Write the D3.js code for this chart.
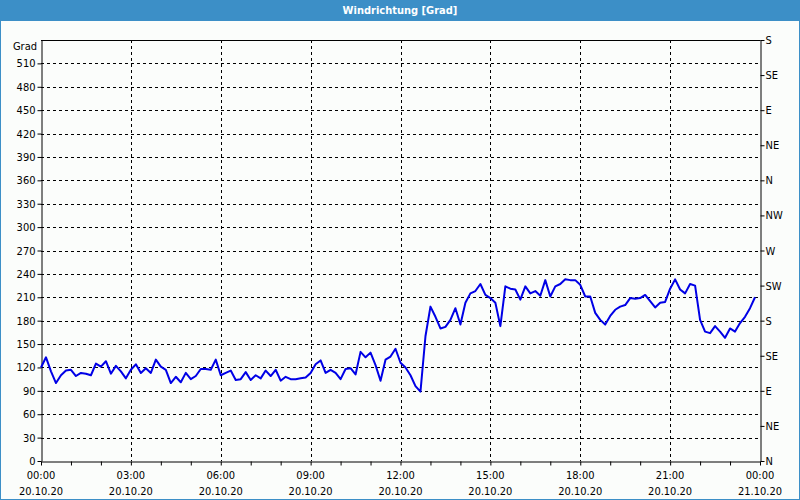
<!DOCTYPE html>
<html><head><meta charset="utf-8">
<script src="https://cdn.jsdelivr.net/npm/d3@7"></script>
<style>
html,body{margin:0;padding:0;background:#fff;}
svg{display:block;}
text{font-family:"DejaVu Sans Condensed","DejaVu Sans",sans-serif;font-size:11px;fill:#000;}
</style></head><body>
<svg id="c" width="800" height="500"></svg>
<script>
const title = "Windrichtung [Grad]";
const unitLabel = "Grad";
// 10-minute wind direction values, 20.10.20 00:00 .. 23:50
const values = [120,133,115,100,110,116,117,109,113,112,110,125,121,128,112,122,115,106,117,124,
113,119,113,130,121,117,100,108,101,113,105,109,118,118,117,130,110,113,116,104,
105,114,104,110,106,116,109,117,103,108,105,105,106,107,113,124,129,113,117,113,
105,118,119,111,140,133,139,123,103,130,134,144,126,120,110,96,89,160,198,185,
170,172,181,196,175,203,215,218,227,213,209,203,173,224,221,220,207,224,215,218,
212,232,211,224,227,233,232,232,226,211,211,190,181,175,186,194,198,200,209,208,
209,213,205,197,203,204,221,233,220,215,227,225,181,166,164,173,166,158,170,166,
177,185,196,210];
const leftTicks = [0,30,60,90,120,150,180,210,240,270,300,330,360,390,420,450,480,510];
const rightTicks = [0,45,90,135,180,225,270,315,360,405,450,495,540];
const rightLabels = ["N","NE","E","SE","S","SW","W","NW","N","NE","E","SE","S"];
const xTickHours = [0,3,6,9,12,15,18,21,24];
const xTimeLabels = ["00:00","03:00","06:00","09:00","12:00","15:00","18:00","21:00","00:00"];
const xDateLabels = ["20.10.20","20.10.20","20.10.20","20.10.20","20.10.20","20.10.20","20.10.20","20.10.20","21.10.20"];
const yMax = 540;

const svg = d3.select("#c");
const W = 800, H = 500;
const m = {left:41, right:760, top:40, bottom:461};

// background & frame
svg.append("rect").attr("x",0).attr("y",0).attr("width",W).attr("height",H).attr("fill","#fbfdfb");
svg.append("rect").attr("x",0).attr("y",0).attr("width",W).attr("height",21).attr("fill","#3c8fc7");
svg.append("rect").attr("x",0.5).attr("y",0.5).attr("width",W-1).attr("height",H-1)
  .attr("fill","none").attr("stroke","#3c8fc7").attr("stroke-width",1);
svg.append("text").attr("x",W/2).attr("y",14).attr("text-anchor","middle")
  .style("fill","#fff").style("font-weight","bold").text(title);

const x = d3.scaleLinear().domain([0,24]).range([m.left, m.right]);
const y = d3.scaleLinear().domain([0,yMax]).range([m.bottom, m.top]);

// grid
const g = svg.append("g");
g.selectAll("line.hg").data(leftTicks.filter(d=>d>0)).enter().append("line")
  .attr("x1",m.left).attr("x2",m.right)
  .attr("y1",d=>Math.round(y(d))+0.5).attr("y2",d=>Math.round(y(d))+0.5)
  .attr("stroke","#000").attr("stroke-dasharray","3,3").attr("stroke-width",1);
g.selectAll("line.vg").data(xTickHours.filter(d=>d>0&&d<24)).enter().append("line")
  .attr("y1",m.top).attr("y2",m.bottom)
  .attr("x1",d=>Math.round(x(d))+0.5).attr("x2",d=>Math.round(x(d))+0.5)
  .attr("stroke","#000").attr("stroke-dasharray","3,3").attr("stroke-width",1);

// top border
svg.append("line").attr("x1",m.left).attr("x2",m.right+0.5).attr("y1",m.top+0.5).attr("y2",m.top+0.5)
  .attr("stroke","#000");

// axes
const leftAxis = d3.axisLeft(y).tickValues(leftTicks).tickSize(4).tickSizeOuter(0).tickPadding(2);
const la = svg.append("g").attr("transform",`translate(${m.left+0.5},0)`).call(leftAxis);
const rightAxis = d3.axisRight(y).tickValues(rightTicks).tickSize(4).tickSizeOuter(0).tickPadding(1)
  .tickFormat((d,i)=>rightLabels[i]);
const ra = svg.append("g").attr("transform",`translate(${m.right+0.5},0)`).call(rightAxis);
const hours = d3.range(0,25);
const bottomAxis = d3.axisBottom(x).tickValues(hours).tickSize(4).tickSizeOuter(0).tickFormat("");
const ba = svg.append("g").attr("transform",`translate(0,${m.bottom+0.5})`).call(bottomAxis);
[la,ra,ba].forEach(a=>{
  a.selectAll("path,line").attr("stroke","#000");
  a.selectAll("text").style("font-family",null).style("font-size",null).attr("fill","#000");
  a.attr("font-family",null).attr("font-size",null);
});
const bl = svg.append("g");
bl.selectAll("text.t").data(xTickHours).enter().append("text")
  .attr("x",d=>x(d)).attr("y",479).attr("text-anchor","middle").text((d,i)=>xTimeLabels[i]);
bl.selectAll("text.d").data(xTickHours).enter().append("text")
  .attr("x",d=>x(d)).attr("y",495).attr("text-anchor","middle").text((d,i)=>xDateLabels[i]);

svg.append("text").attr("x",37).attr("y",50).attr("text-anchor","end").text(unitLabel);

// line
const line = d3.line().x((d,i)=>x(i/6)).y(d=>y(d));
svg.append("path").datum(values).attr("d",line).attr("fill","none")
  .attr("stroke","#0000e6").attr("stroke-width",2).attr("stroke-linejoin","round");
</script>
</body></html>
